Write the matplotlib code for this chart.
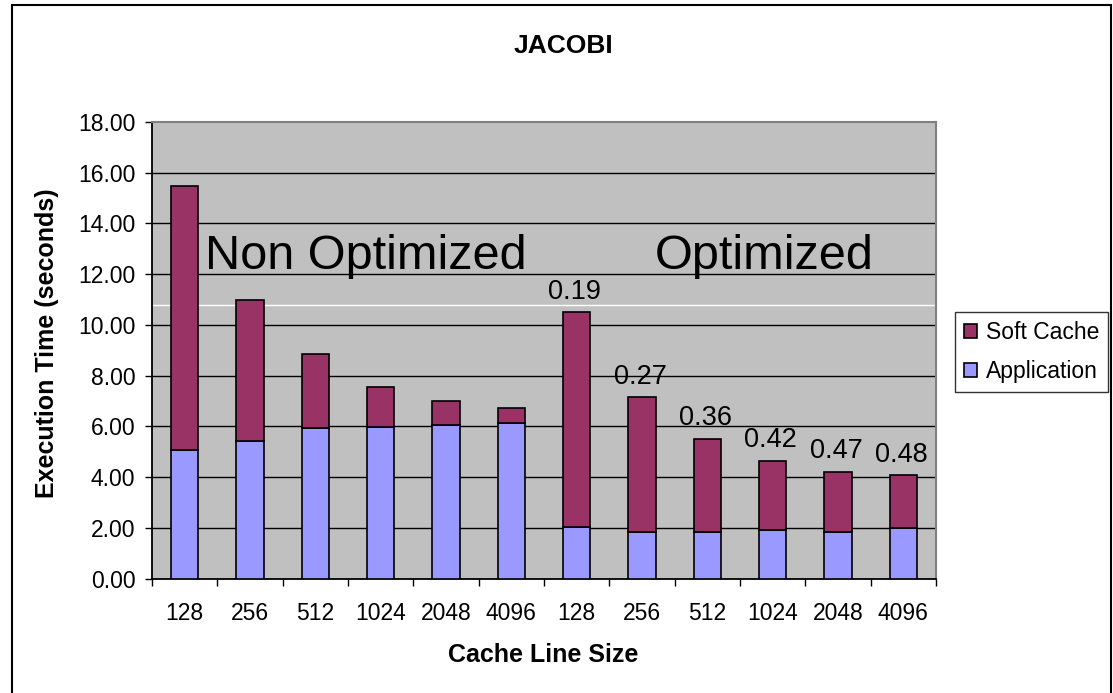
import matplotlib
matplotlib.use("Agg")
import matplotlib.pyplot as plt
from matplotlib.patches import Rectangle
import numpy as np

plt.rcParams['font.family'] = ['Liberation Sans', 'DejaVu Sans']

categories = ["128", "256", "512", "1024", "2048", "4096",
              "128", "256", "512", "1024", "2048", "4096"]
application = [5.05, 5.42, 5.92, 5.98, 6.06, 6.13,
               2.04, 1.83, 1.83, 1.91, 1.83, 1.99]
total_time = [15.49, 10.99, 8.85, 7.56, 6.99, 6.71,
              10.49, 7.14, 5.50, 4.63, 4.20, 4.07]
soft_cache = [t - a for t, a in zip(total_time, application)]
ratio_labels = ["", "", "", "", "", "",
                "0.19", "0.27", "0.36", "0.42", "0.47", "0.48"]
y_ticks = [0, 2, 4, 6, 8, 10, 12, 14, 16, 18]

fig = plt.figure(figsize=(11.13, 6.93), dpi=100)
ax = fig.add_axes([152/1113, 1-578.5/693, 784/1113, 456.5/693])
ax.set_facecolor('#C0C0C0')

x = np.arange(len(categories))
w = 0.42
b_app = ax.bar(x, application, w, color='#9999FF', edgecolor='black', linewidth=1.2,
               label='Application', zorder=3)
b_sc = ax.bar(x, soft_cache, w, bottom=application, color='#993366', edgecolor='black',
              linewidth=1.2, label='Soft Cache', zorder=3)

ax.set_ylim(0, 18)
ax.set_xlim(-0.5, len(categories) - 0.5)
ax.set_yticks(y_ticks)
ax.set_yticklabels([f"{v:.2f}" for v in y_ticks], fontsize=16.5)
ax.set_xticks(x)
ax.set_xticklabels(categories, fontsize=16.5)
ax.set_xticks(np.arange(-0.5, len(categories)), minor=True)
ax.tick_params(axis='x', which='major', length=0, pad=17)
ax.tick_params(axis='x', which='minor', length=5, width=1, direction='out', color='black')
ax.tick_params(axis='y', length=5, width=1, direction='out', pad=7)

for yv in y_ticks[1:-1]:
    ax.axhline(yv, color='black', linewidth=1, zorder=1)
ax.axhline(10.78, color='white', linewidth=1, zorder=1.5)

ax.spines['left'].set_color('black')
ax.spines['bottom'].set_color('black')
ax.spines['left'].set_linewidth(1.3)
ax.spines['bottom'].set_linewidth(1.3)
ax.spines['top'].set_color('#808080')
ax.spines['right'].set_color('#808080')
ax.spines['top'].set_linewidth(1.5)
ax.spines['right'].set_linewidth(1.5)

for xi, t, lab in zip(x, total_time, ratio_labels):
    if lab:
        ax.text(xi - 0.03, t + 0.3, lab, ha='center', va='bottom', fontsize=19.5, zorder=4)

ax.text(0.31, 12.2, "Non Optimized", fontsize=35, ha='left', va='baseline', zorder=4)
ax.text(7.2, 12.2, "Optimized", fontsize=35, ha='left', va='baseline', zorder=4)

fig.text(563/1113, 1-46/693, "JACOBI", fontsize=19, fontweight='bold', ha='center', va='center')
fig.text(47/1113, 1-343/693, "Execution Time (seconds)", fontsize=18, fontweight='bold',
         rotation=90, ha='center', va='center')
fig.text(543/1113, 1-655/693, "Cache Line Size", fontsize=18, fontweight='bold',
         ha='center', va='center')

leg = fig.legend([b_sc, b_app], ['Soft Cache', 'Application'], loc='upper left',
                 bbox_to_anchor=(955/1113, 1-312/693), bbox_transform=fig.transFigure,
                 fontsize=16.5, frameon=True, fancybox=False, edgecolor='black',
                 handlelength=0.55, handleheight=0.55, handletextpad=0.4,
                 borderpad=0.4, labelspacing=0.68, borderaxespad=0)
leg.get_frame().set_linewidth(1.0)

fig.patches.append(Rectangle((12/1113, -0.02), 1099/1113, 1.02 - 5/693, fill=False,
                             edgecolor='black', linewidth=1.5, transform=fig.transFigure))

fig.savefig("out.png", dpi=100, facecolor='white')
